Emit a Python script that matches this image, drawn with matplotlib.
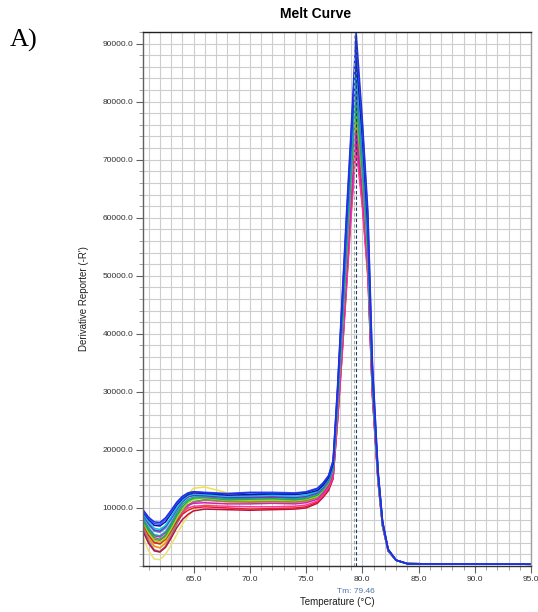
import matplotlib
matplotlib.use("Agg")
import matplotlib.pyplot as plt
from matplotlib.ticker import MultipleLocator, FixedLocator

# Temperature sampling points (°C)
temps = [60.5, 61.0, 61.5, 62.0, 62.5, 63.0, 63.5, 64.0, 64.5, 65.0, 66.0, 68.0, 70.0,
         72.0, 74.0, 75.0, 76.0,
         76.5, 77.0, 77.4, 77.8, 78.2, 78.6, 79.0, 79.45, 80.0, 80.5, 80.9, 81.4, 81.8,
         82.3, 83.0, 84.0, 88.0, 95.0]

# Derivative reporter values (thousands)
s_yellow_hi = [7.0, 5.0, 3.5, 3.2, 4.2, 6.2, 8.6, 10.8, 12.4, 13.4, 13.6, 12.6, 12.2, 12.0, 11.8, 11.9, 12.4,
               13.2, 14.4, 16.4, 27.0, 39.0, 51.5, 64.0, 76.0, 65.5, 52.5, 30.5, 15.0, 7.0, 2.6, 1.0, 0.4, 0.35, 0.3]
s_yellow_lo = [5.0, 2.6, 1.2, 1.1, 2.0, 3.6, 5.4, 7.2, 8.6, 9.6, 10.6, 10.9, 11.0, 11.0, 10.9, 11.1, 11.7,
               12.6, 13.8, 15.8, 26.0, 37.5, 49.5, 62.0, 74.0, 64.0, 51.5, 30.0, 14.8, 7.0, 2.6, 1.0, 0.4, 0.35, 0.3]
s_orange = [6.8, 4.8, 3.4, 3.1, 3.9, 5.6, 7.5, 9.2, 10.4, 11.0, 11.3, 11.1, 11.1, 11.2, 11.1, 11.3, 11.8,
            12.8, 14.0, 16.2, 26.8, 39.0, 52.0, 64.5, 77.0, 66.0, 52.5, 30.5, 15.0, 7.0, 2.6, 1.0, 0.4, 0.35, 0.3]
s_olive = [7.3, 5.5, 4.1, 3.9, 4.6, 6.0, 7.8, 9.4, 10.5, 11.1, 11.4, 11.1, 11.0, 11.1, 11.0, 11.2, 11.8,
           12.8, 14.1, 16.3, 27.2, 39.5, 52.5, 65.5, 78.0, 66.5, 53.0, 30.8, 15.1, 7.1, 2.7, 1.0, 0.4, 0.35, 0.3]
s_gray = [6.5, 4.3, 2.8, 2.5, 3.4, 5.2, 7.2, 9.0, 10.3, 11.0, 11.4, 11.3, 11.4, 11.5, 11.4, 11.6, 12.1,
          13.1, 14.4, 16.6, 28.0, 41.0, 54.5, 67.5, 81.0, 69.0, 54.5, 31.5, 15.3, 7.2, 2.7, 1.0, 0.4, 0.35, 0.3]
s_crimson = [6.0, 3.9, 2.6, 2.4, 3.2, 4.8, 6.6, 8.0, 8.9, 9.5, 9.8, 9.7, 9.6, 9.7, 9.8, 10.0, 10.8,
             11.8, 13.0, 15.0, 25.2, 36.8, 49.0, 61.5, 74.0, 63.0, 50.5, 29.5, 14.6, 6.9, 2.6, 1.0, 0.4, 0.35, 0.3]
s_red = [7.2, 5.3, 4.0, 3.8, 4.6, 6.1, 7.7, 8.9, 9.6, 10.0, 10.2, 10.0, 9.8, 9.9, 10.0, 10.2, 11.0,
         12.0, 13.3, 15.2, 25.0, 36.5, 48.5, 61.0, 73.0, 62.5, 50.0, 29.5, 14.6, 6.9, 2.6, 1.0, 0.4, 0.35, 0.3]
s_pink = [7.6, 5.8, 4.6, 4.4, 5.1, 6.6, 8.2, 9.3, 10.0, 10.3, 10.4, 10.3, 10.2, 10.2, 10.3, 10.5, 11.2,
          12.2, 13.5, 15.3, 25.0, 36.0, 48.0, 60.0, 72.0, 62.0, 49.5, 29.0, 14.5, 6.9, 2.6, 1.0, 0.4, 0.35, 0.3]
s_magenta = [8.0, 6.3, 5.2, 5.0, 5.7, 7.2, 8.8, 9.9, 10.5, 10.8, 10.9, 10.7, 10.7, 10.8, 10.7, 10.9, 11.5,
             12.5, 13.8, 15.8, 26.0, 37.5, 50.0, 62.5, 75.0, 64.5, 51.5, 30.0, 14.8, 7.0, 2.6, 1.0, 0.4, 0.35, 0.3]
s_lime = [7.5, 5.7, 4.4, 4.1, 4.8, 6.4, 8.2, 9.8, 10.9, 11.5, 11.7, 11.3, 11.3, 11.4, 11.3, 11.5, 12.0,
          13.0, 14.3, 16.5, 27.5, 40.0, 53.5, 66.5, 79.0, 67.5, 53.5, 31.0, 15.2, 7.1, 2.7, 1.0, 0.4, 0.35, 0.3]
s_green = [7.8, 6.1, 4.9, 4.6, 5.3, 6.9, 8.7, 10.2, 11.2, 11.7, 11.8, 11.4, 11.5, 11.6, 11.4, 11.6, 12.2,
           13.1, 14.4, 16.6, 28.0, 40.5, 54.0, 67.0, 80.0, 68.0, 54.0, 31.0, 15.2, 7.1, 2.7, 1.0, 0.4, 0.35, 0.3]
s_teal = [8.2, 6.6, 5.4, 5.2, 5.9, 7.4, 9.2, 10.6, 11.5, 11.9, 11.9, 11.6, 11.7, 11.8, 11.6, 11.8, 12.4,
          13.3, 14.6, 16.8, 28.5, 41.5, 55.0, 68.5, 82.0, 69.5, 55.0, 31.5, 15.4, 7.2, 2.7, 1.0, 0.4, 0.35, 0.3]
s_steel = [8.6, 7.1, 6.0, 5.8, 6.5, 8.0, 9.6, 11.0, 11.9, 12.2, 12.2, 11.9, 12.0, 12.1, 11.9, 12.1, 12.6,
           13.5, 14.8, 17.0, 29.0, 42.5, 56.0, 70.0, 84.0, 71.0, 56.0, 32.0, 15.6, 7.3, 2.7, 1.0, 0.4, 0.35, 0.3]
s_purple = [8.8, 7.3, 6.2, 6.0, 6.8, 8.2, 9.8, 11.1, 11.9, 12.2, 12.1, 11.8, 11.8, 11.9, 11.8, 12.0, 12.6,
            13.5, 14.8, 17.0, 29.2, 43.0, 57.0, 71.0, 85.0, 72.0, 56.5, 32.2, 15.7, 7.4, 2.8, 1.0, 0.4, 0.35, 0.3]
s_cyan = [9.0, 7.6, 6.5, 6.3, 7.0, 8.4, 10.0, 11.3, 12.1, 12.4, 12.3, 12.0, 12.1, 12.2, 12.0, 12.2, 12.8,
          13.7, 15.0, 17.2, 29.5, 43.5, 57.5, 71.5, 86.0, 72.5, 57.0, 32.5, 15.8, 7.4, 2.8, 1.0, 0.4, 0.35, 0.3]
s_navy = [9.3, 8.0, 7.0, 6.9, 7.6, 9.0, 10.5, 11.6, 12.3, 12.6, 12.5, 12.2, 12.3, 12.4, 12.3, 12.5, 13.0,
          13.9, 15.2, 17.5, 30.0, 44.5, 59.0, 73.0, 88.0, 74.0, 58.0, 33.0, 16.0, 7.5, 2.8, 1.0, 0.4, 0.35, 0.3]
s_royal = [9.5, 8.2, 7.3, 7.2, 8.0, 9.3, 10.8, 11.8, 12.5, 12.8, 12.7, 12.5, 12.7, 12.7, 12.6, 12.8, 13.4,
           14.3, 15.6, 18.2, 30.5, 45.5, 60.0, 74.0, 90.0, 76.0, 60.0, 34.5, 16.3, 7.7, 2.9, 1.0, 0.4, 0.35, 0.3]
s_blue = [9.7, 8.4, 7.6, 7.5, 8.3, 9.6, 11.0, 12.0, 12.6, 12.8, 12.6, 12.4, 12.6, 12.5, 12.5, 12.7, 13.3,
          14.2, 15.5, 18.0, 31.0, 46.0, 61.0, 75.0, 92.0, 77.0, 61.0, 35.0, 16.5, 7.8, 2.9, 1.0, 0.4, 0.35, 0.3]

series = [s_yellow_hi, s_yellow_lo, s_orange, s_olive, s_gray, s_crimson, s_red, s_pink,
          s_magenta, s_lime, s_green, s_teal, s_steel, s_purple, s_cyan, s_navy, s_royal, s_blue]
colors = ["#f0e050", "#e8e27a", "#f09020", "#a08030", "#808090", "#c01040", "#e02030", "#ff3c8c",
          "#d020c0", "#90e020", "#20b040", "#20a0a0", "#4a90e0", "#7030c0", "#00c8e0", "#1010a0",
          "#3050ff", "#2030e0"]

xticks = [65.0, 70.0, 75.0, 80.0, 85.0, 90.0, 95.0]
yticks = [10000, 20000, 30000, 40000, 50000, 60000, 70000, 80000, 90000]
tm_value = 79.45
tm_label = "Tm: 79.46"

fig = plt.figure(figsize=(5.38, 6.12), dpi=100)
ax = fig.add_axes([143/538, 1 - 566/612, (531 - 143)/538, (566 - 32)/612])

for vals, c in zip(series, colors):
    ax.plot(temps, [v * 1000 for v in vals], color=c, lw=1.1, solid_joinstyle="round")

ax.axvline(tm_value - 0.15, color="#9ab09a", lw=0.8, ls=(0, (3, 2)))
ax.axvline(tm_value, color="#203a70", lw=0.8, ls=(0, (3, 2)))

ax.set_xlim(60.5, 95.0)
ax.set_ylim(0, 92000)
ax.xaxis.set_major_locator(FixedLocator(xticks))
ax.xaxis.set_minor_locator(MultipleLocator(1.0))
ax.yaxis.set_major_locator(FixedLocator(yticks))
ax.yaxis.set_minor_locator(MultipleLocator(2000))
ax.set_xticklabels([f"{t:.1f}" for t in xticks])
ax.set_yticklabels([f"{t:.1f}" for t in yticks])
ax.grid(True, which="both", color="#cdcdcd", lw=0.8)
ax.set_axisbelow(True)
ax.tick_params(which="major", length=5, width=0.8, color="#606060", labelsize=6,
               labelcolor="#303030", pad=2)
ax.tick_params(which="minor", length=3, width=0.6, color="#909090")
for lab in ax.get_xticklabels() + ax.get_yticklabels():
    lab.set_family(["Liberation Sans", "DejaVu Sans"])

ax.spines["top"].set_color("#202020")
ax.spines["bottom"].set_color("#303030")
ax.spines["left"].set_color("#606060")
ax.spines["right"].set_color("#a0a0a0")
for s in ax.spines.values():
    s.set_linewidth(1.0)

ax.set_xlabel("Temperature (°C)", fontsize=7, family=["Liberation Sans", "DejaVu Sans"],
              color="#202020", labelpad=10)
ax.set_ylabel("Derivative Reporter (-R')", fontsize=7, family=["Liberation Sans", "DejaVu Sans"],
              color="#202020", labelpad=10)
ax.text(tm_value, -0.048, tm_label, transform=ax.get_xaxis_transform(), ha="center", va="center",
        fontsize=6, color="#4a78a8", family=["Liberation Sans", "DejaVu Sans"])

fig.text(316/538, 1 - 14/612, "Melt Curve", ha="center", va="center", fontsize=10,
         fontweight="bold", family=["Liberation Sans", "DejaVu Sans"])
fig.text(10/538, 1 - 40/612, "A)", ha="left", va="center", fontsize=19,
         family=["Liberation Serif", "DejaVu Serif"])

fig.savefig("out.png", dpi=100)
